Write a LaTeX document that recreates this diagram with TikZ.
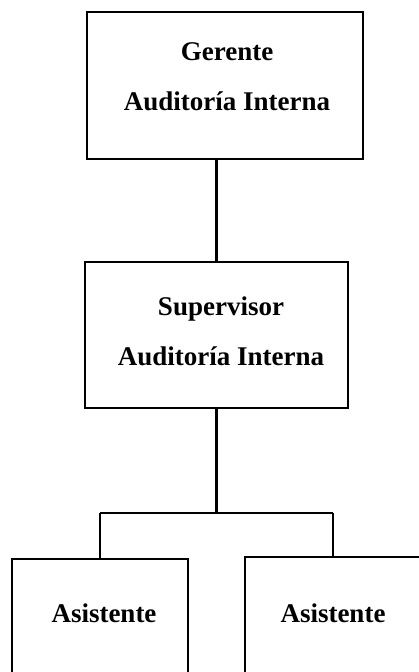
\documentclass[tikz,border=0pt]{standalone}
\usepackage{fontspec}
\setmainfont{Liberation Serif}
\usetikzlibrary{positioning}

\tikzset{
  caja/.style={draw, line width=2.2pt, inner sep=0pt},
  rotulo/.style={align=center, inner sep=0pt,
    font=\bfseries\fontsize{27}{50}\selectfont},
  linea/.style={line width=2.2pt}
}

\begin{document}
\begin{tikzpicture}[x=1pt, y=-1pt]

\useasboundingbox (0, 0) rectangle (418, 672);

% cajas
\node[caja, minimum width=276pt, minimum height=147pt] (ger) at (225, 85.5) {};
\node[caja, minimum width=263pt, minimum height=146pt] (sup) at (216.5, 335) {};
\node[caja, anchor=north, minimum width=176pt, minimum height=200pt] (asl) at (100, 558) {};
\node[caja, anchor=north, minimum width=176pt, minimum height=200pt] (asr) at (333, 556) {};

% textos
\node[rotulo] (gert) at (227, 77) {Gerente\\Auditoría Interna};
\node[rotulo] (supt) at (221, 331) {Supervisor\\Auditoría Interna};
\node[rotulo] (aslt) at (104, 613) {Asistente};
\node[rotulo] (asrt) at (333, 613) {Asistente};

\coordinate (jl) at (100, 513);
\coordinate (jr) at (333, 513);

\draw[linea] (sup.north) -- (sup.north |- ger.south);
\draw[linea] (sup.south) -- (sup.south |- jl);
\draw[linea] (jl) -- (jr);
\draw[linea] (jl) -- (asl.north);
\draw[linea] (jr) -- (asr.north);

\end{tikzpicture}
\end{document}
